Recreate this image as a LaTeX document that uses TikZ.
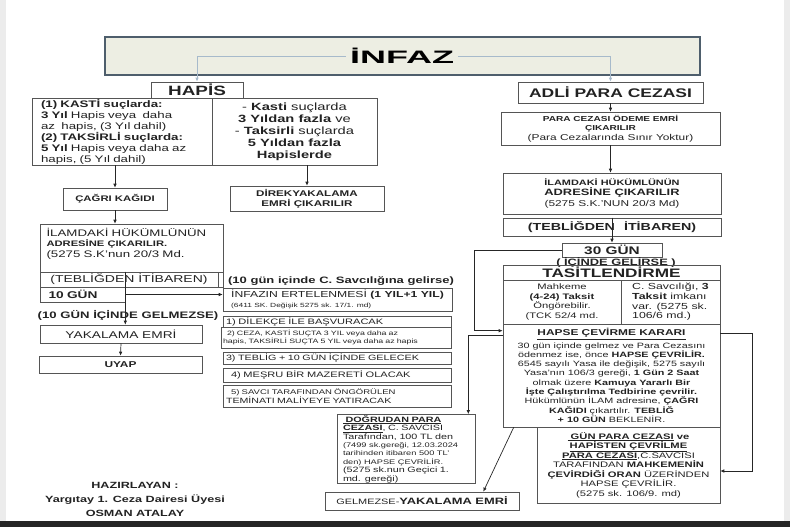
\documentclass[tikz,border=0pt]{standalone}
\usepackage{fontspec}
\setmainfont{Liberation Sans}[FakeStretch=1.4]
\newfontfamily\genis{Liberation Sans}[FakeStretch=2.0]
\usetikzlibrary{arrows.meta}

\definecolor{kenar}{HTML}{555555}
\definecolor{baslikzemin}{HTML}{EDEEE3}
\definecolor{baslikkenar}{HTML}{4E5E6C}
\definecolor{acikmavi}{HTML}{A7BACB}
\definecolor{yazi}{HTML}{222222}
\newcommand{\punto}[2]{\fontsize{#1}{#2}\selectfont}

\begin{document}
\begin{tikzpicture}[x=1pt, y=-1pt,
    kutu/.style={draw=kenar, line width=0.6pt, inner sep=1pt, align=center, text=yazi},
    etiket/.style={inner sep=0pt, text=yazi, align=center},
    ok/.style={draw=black!85, line width=0.7pt, -{Latex[length=4pt,width=3.6pt]}},
    baslikok/.style={draw=acikmavi, line width=0.8pt, -{Latex[length=4pt,width=3.5pt]}}]
    \useasboundingbox (0,0) rectangle (790,527);
    \fill[gray!15] (0,0) rectangle (6,527);
    \fill[gray!15] (784,0) rectangle (790,527);
    \fill[black!85] (0,521) rectangle (790,527);

    % Baslik
    \node[draw=baslikkenar, line width=1.3pt, fill=baslikzemin, minimum width=595pt, minimum height=38pt] (cerceve) at (402.5,56) {};
    \node[inner sep=4pt, font=\genis\bfseries\punto{18}{20}] (infaz) at (402,56) {İNFAZ};

    % Sol sutun : HAPIS
    \node[kutu, minimum width=92pt, minimum height=16pt, font=\bfseries\punto{13.5}{15}] (hapis) at (197,90) {HAPİS};
    \node[kutu, minimum width=180pt, minimum height=67pt, text width=162pt, align=left, font=\punto{9.5}{11}] (kasti) at (122,131.5)
        {\textbf{(1) KASTİ suçlarda:}\\ \textbf{3 Yıl} Hapis veya\ \ daha\\ az\ \ hapis, (3 Yıl dahil)\\
         \textbf{(2) TAKSİRLİ suçlarda:}\\ \textbf{5 Yıl} Hapis veya daha az\\ hapis, (5 Yıl dahil)};
    \node[kutu, minimum width=165pt, minimum height=67pt, font=\punto{10.5}{12}] (agir) at (294.5,131.5)
        {- \textbf{Kasti} suçlarda\\ \textbf{3 Yıldan fazla} ve\\ - \textbf{Taksirli} suçlarda\\ \textbf{5 Yıldan fazla}\\ \textbf{Hapislerde}};
    \draw[baslikok] (infaz.west) -| (hapis.north);

    \node[kutu, minimum width=104pt, minimum height=22pt, font=\bfseries\punto{8.1}{10}] (cagri) at (115,199) {ÇAĞRI KAĞIDI};
    \node[kutu, minimum width=154pt, minimum height=25pt, font=\bfseries\punto{8.3}{10}] (direk) at (307,198.5) {DİREKYAKALAMA\\ EMRİ ÇIKARILIR};
    \draw[ok] (kasti.south -| cagri.north) -- (cagri.north);
    \draw[ok] (agir.south -| direk.north) -- (direk.north);

    \node[kutu, minimum width=183pt, minimum height=48pt, text width=170pt, align=left, font=\punto{9.5}{10.5}] (ilamL) at (131.5,248)
        {İLAMDAKİ HÜKÜMLÜNÜN\\ {\bfseries\punto{8}{10.5}ADRESİNE ÇIKARILIR.}\\ (5275 S.K'nun 20/3 Md.\\ ~};
    \draw[ok] (cagri.south) -- (cagri.south |- ilamL.north);
    \node[kutu, minimum width=178pt, minimum height=15pt, font=\punto{10}{11}] (teblL) at (129,279.5) {(TEBLİĞDEN İTİBAREN)};
    \node[kutu, minimum width=5pt, minimum height=15pt] (ek) at (220.5,279.5) {};
    \node[kutu, minimum width=85pt, minimum height=15pt, text width=68pt, align=left, font=\bfseries\punto{9.8}{11}] (onGun) at (82.5,294.5) {10 GÜN};
    \node[etiket, font=\bfseries\punto{9.4}{10}] (gelmez) at (128,315) {(10 GÜN İÇİNDE GELMEZSE)};
    \node[kutu, minimum width=162pt, minimum height=18pt, font=\punto{9.8}{11}] (yakala) at (121,334) {YAKALAMA EMRİ};
    \node[kutu, minimum width=163pt, minimum height=17pt, font=\bfseries\punto{8.5}{10}] (uyap) at (120.5,364.5) {UYAP};
    \draw[ok] (onGun.east |- teblL.north) -- (onGun.east |- yakala.north);
    \draw[ok] (yakala.south) -- (uyap.north);

    % Erteleme sartlari
    \node[etiket, font=\bfseries\punto{9.3}{10}] (savcilik) at (341,281) {(10 gün içinde C. Savcılığına gelirse)};
    \node[kutu, minimum width=229pt, minimum height=23pt, align=left, font=\punto{8.7}{10}] (erteleme) at (337.5,299.5)
        {İNFAZIN ERTELENMESİ \textbf{(1 YIL+1 YIL)}\\ {\punto{6}{10}(6411 SK. Değişik 5275 sk. 17/1. md)}};
    \draw[ok] (onGun.east) -- (onGun.east -| erteleme.west);
    \node[kutu, minimum width=228pt, minimum height=11pt, text width=222pt, align=left, font=\punto{7.9}{9}] (sart1) at (337,321.5) {1) DİLEKÇE İLE BAŞVURACAK};
    \node[kutu, minimum width=230pt, minimum height=21pt, text width=226pt, align=left, font=\punto{6.3}{8.5}] (sart2) at (336,337.5)
        {\hspace*{4pt}2) CEZA, KASTİ SUÇTA 3 YIL veya daha az\\ hapis, TAKSİRLİ SUÇTA 5 YIL veya daha az hapis};
    \node[kutu, minimum width=228pt, minimum height=12pt, text width=222pt, align=left, font=\punto{7.7}{9}] (sart3) at (337,358) {3) TEBLİG + 10 GÜN İÇİNDE GELECEK};
    \node[kutu, minimum width=228pt, minimum height=14pt, text width=222pt, align=left, font=\punto{7.9}{9}] (sart4) at (337,375) {\hspace*{5pt}4) MEŞRU BİR MAZERETİ OLACAK};
    \node[kutu, minimum width=228pt, minimum height=22pt, text width=222pt, align=left, font=\punto{6.8}{9}] (sart5) at (337,396)
        {\hspace*{5pt}5) SAVCI TARAFINDAN ÖNGÖRÜLEN\\ {\punto{7.6}{9}TEMİNATI MALİYEYE YATIRACAK}};

    % Sag sutun : ADLI PARA CEZASI
    \node[kutu, minimum width=185pt, minimum height=21pt, font=\bfseries\punto{12.5}{14}] (adli) at (610.5,92.5) {ADLİ PARA CEZASI};
    \draw[baslikok] (infaz.east) -| (adli.north);
    \node[kutu, minimum width=219pt, minimum height=33pt, font=\punto{7.2}{9.5}] (odeme) at (610.5,128.5)
        {\textbf{PARA CEZASI ÖDEME EMRİ}\\ \textbf{ÇIKARILIR}\\ {\punto{8.5}{9.5}(Para Cezalarında Sınır Yoktur)}};
    \node[kutu, minimum width=218pt, minimum height=41pt, font=\punto{8.5}{10.5}] (ilamR) at (612,193.5)
        {{\bfseries\punto{7.8}{10.5}İLAMDAKİ HÜKÜMLÜNÜN}\\ {\bfseries\punto{9.2}{10.5}ADRESİNE ÇIKARILIR}\\ (5275 S.K.'NUN 20/3 Md)};
    \draw[ok] (adli.south) -- (odeme.north);
    \draw[ok] (odeme.south) -- (odeme.south |- ilamR.north);
    \node[kutu, minimum width=218pt, minimum height=18pt, font=\bfseries\punto{10.2}{11}] (teblR) at (612,227) {(TEBLİĞDEN\hspace{9pt}İTİBAREN)};
    \node[kutu, minimum width=100pt, minimum height=14pt, font=\bfseries\punto{11}{12}] (otuz) at (612,250) {30 GÜN};
    \draw[ok] (teblR.north) -- (otuz.north);
    \node[etiket, font=\bfseries\punto{9.2}{10}] (icinde) at (616,262.5) {( İÇİNDE GELİRSE )};
    \node[kutu, minimum width=217pt, minimum height=15pt, font=\bfseries\punto{12.3}{13}] (taksit) at (611.5,272.5) {TASİTLENDİRME};
    \node[kutu, minimum width=118pt, minimum height=44pt, font=\punto{8}{9.7}] (mahkeme) at (562,302)
        {Mahkeme\\ \textbf{(4-24) Taksit}\\ Öngörebilir.\\ (TCK 52/4 md.};
    \node[kutu, minimum width=99pt, minimum height=44pt, align=left, font=\punto{8.8}{9.7}] (csavci) at (670.5,302)
        {C. Savcılığı, \textbf{3}\\ \textbf{Taksit} imkanı\\ var. (5275 sk.\\ 106/6 md.)};

    \node[kutu, minimum width=217pt, minimum height=103pt, font=\punto{7.7}{9.3}] (hapse) at (611.5,375.5)
        {{\bfseries\punto{8.5}{9.3}\underline{HAPSE ÇEVİRME KARARI}}\\[2pt]
         30 gün içinde gelmez ve Para Cezasını\\ ödenmez ise, önce \textbf{HAPSE ÇEVRİLİR.}\\
         6545 sayılı Yasa ile değişik, 5275 sayılı\\ Yasa'nın 106/3 gereği, \textbf{1 Gün 2 Saat}\\
         olmak üzere \textbf{Kamuya Yararlı Bir}\\ \textbf{İşte Çalıştırılma Tedbirine çevrilir.}\\
         Hükümlünün İLAM adresine, \textbf{ÇAĞRI}\\ \textbf{KAĞIDI} çıkartılır. \textbf{TEBLİĞ}\\ \textbf{+ 10 GÜN} BEKLENİR.};
    \node[kutu, minimum width=183pt, minimum height=76pt, font=\punto{8}{9.5}] (gunPara) at (628.5,465)
        {\textbf{\underline{\ GÜN PARA CEZASI} ve}\\ \textbf{\underline{HAPİSTEN ÇEVRİLME}}\\ \textbf{\underline{PARA CEZASI}},C.SAVCISI\\
         TARAFINDAN \textbf{MAHKEMENİN}\\ \textbf{ÇEVİRDİĞİ ORAN} ÜZERİNDEN\\ HAPSE ÇEVRİLİR.\\ (5275 sk. 106/9. md)};
    \node[kutu, minimum width=138pt, minimum height=68pt, text width=126pt, align=left, font=\punto{7.7}{8.4}] (dogrudan) at (406,449)
        {\textbf{\underline{\ DOĞRUDAN PARA}}\\ \textbf{\underline{CEZASI}}, C. SAVCISI\\ Tarafından, 100 TL den\\
         {\punto{6.6}{8.4}(7499 sk.gereği, 12.03.2024}\\ {\punto{6.6}{8.4}tarihinden itibaren 500 TL'}\\
         {\punto{6.6}{8.4}den) HAPSE ÇEVRİLİR.}\\ (5275 sk.nun Geçici 1.\\ md. gereği)};
    \node[kutu, minimum width=194pt, minimum height=18pt, font=\punto{7.8}{10}] (gelmezYak) at (422,501)
        {GELMEZSE-{\bfseries\punto{9.2}{10}YAKALAMA EMRİ}};

    % Hapse cevirme baglantilari
    \coordinate (hapseGiris) at ([yshift=-7pt]hapse.north west);
    \coordinate (hapseSol) at ([yshift=-12pt]hapse.north west);
    \coordinate (hapseSag) at ([yshift=-10pt]hapse.north east);
    \draw[ok] (otuz.west) -- ++(-87,0) |- (hapseGiris);
    \draw[ok] (hapseSol) -| ([xshift=-7pt]dogrudan.north east);
    \draw[ok] (hapseSag) -- ++(32,0) |- ([yshift=-6pt]gunPara.east);
    \draw[ok] ([xshift=11pt]hapse.south west) -- ([xshift=-36pt]gelmezYak.north east);

    \node[etiket, font=\bfseries\punto{9}{14}] (hazir) at (135,499) {HAZIRLAYAN :\\ Yargıtay 1. Ceza Dairesi Üyesi\\ OSMAN ATALAY};
\end{tikzpicture}
\end{document}
